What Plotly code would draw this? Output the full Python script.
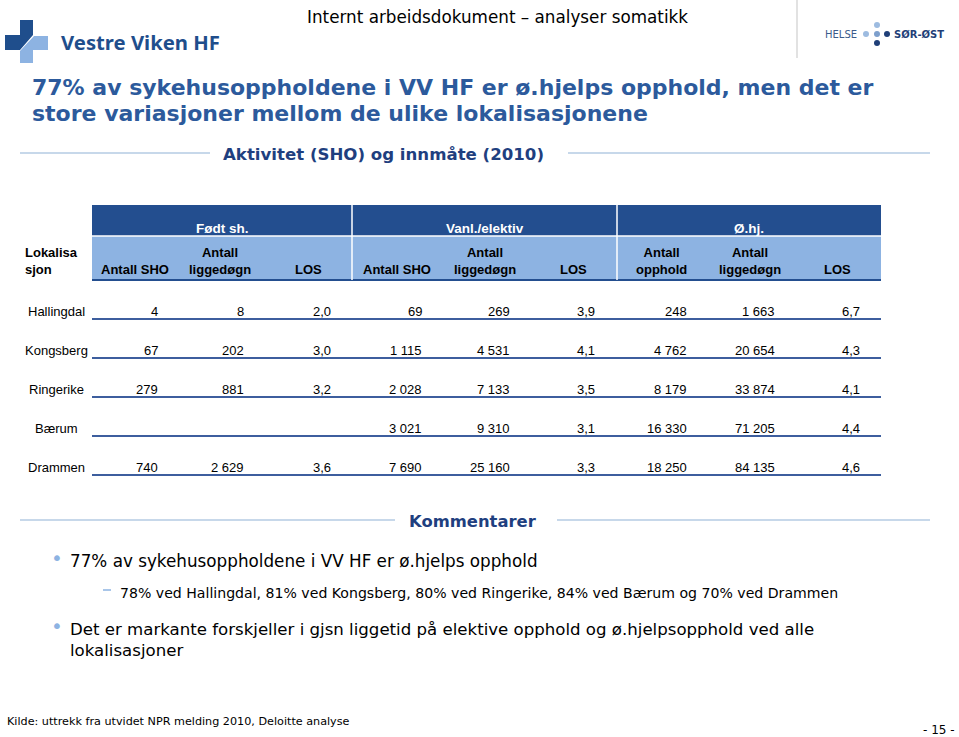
import plotly.graph_objects as go

# ---------------- data ----------------
locations = ["Hallingdal", "Kongsberg", "Ringerike", "Bærum", "Drammen"]

fodt_sho = [4, 67, 279, None, 740]
fodt_ligg = [8, 202, 881, None, 2629]
fodt_los = [2.0, 3.0, 3.2, None, 3.6]
vanl_sho = [69, 1115, 2028, 3021, 7690]
vanl_ligg = [269, 4531, 7133, 9310, 25160]
vanl_los = [3.9, 4.1, 3.5, 3.1, 3.3]
ohj_opph = [248, 4762, 8179, 16330, 18250]
ohj_ligg = [1663, 20654, 33874, 71205, 84135]
ohj_los = [6.7, 4.3, 4.1, 4.4, 4.6]

group_labels = ["Født sh.", "Vanl./elektiv", "Ø.hj."]
col_labels = ["Antall SHO", "Antall<br>liggedøgn", "LOS",
              "Antall SHO", "Antall<br>liggedøgn", "LOS",
              "Antall<br>opphold", "Antall<br>liggedøgn", "LOS"]

title_lines = ["77% av sykehusoppholdene i VV HF er ø.hjelps opphold, men det er",
               "store variasjoner mellom de ulike lokalisasjonene"]
header_text = "Internt arbeidsdokument – analyser somatikk"
section1 = "Aktivitet (SHO) og innmåte (2010)"
section2 = "Kommentarer"
bullet1 = "77% av sykehusoppholdene i VV HF er ø.hjelps opphold"
sub_bullet = "78% ved Hallingdal, 81% ved Kongsberg, 80% ved Ringerike, 84% ved Bærum og 70% ved Drammen"
bullet2 = ["Det er markante forskjeller i gjsn liggetid på elektive opphold og ø.hjelpsopphold ved alle",
           "lokalisasjoner"]
source = "Kilde: uttrekk fra utvidet NPR melding 2010, Deloitte analyse"
page_no = "- 15 -"

columns = [fodt_sho, fodt_ligg, fodt_los, vanl_sho, vanl_ligg, vanl_los,
           ohj_opph, ohj_ligg, ohj_los]
is_los = [False, False, True, False, False, True, False, False, True]

# ---------------- layout constants ----------------
W, H = 959, 737
DARK = "#234e8f"
LIGHT = "#8db3e2"
NAVY = "#1f4e8c"
TITLE_C = "#2c5a9c"
LINE_C = "#3d5e9e"
SEC_LINE = "#b4cbe3"

col_right = [160, 246, 333, 424, 512, 597, 689, 777, 862]
col_center = [135, 220, 308, 397, 485, 573, 661, 750, 837]
row_y = [311, 350, 389, 428, 467]
line_y = [319, 358, 397, 436, 475]
T_L, T_R = 92, 881
SEP1, SEP2 = 352, 617


def fmt(v, los):
    if v is None:
        return ""
    if los:
        return f"{v:.1f}".replace(".", ",")
    return f"{v:,}".replace(",", " ")


fig = go.Figure()
fig.add_trace(go.Scatter(x=[0, W], y=[0, H], mode="markers",
                         marker=dict(opacity=0), hoverinfo="skip"))

shapes = []
ann = []


def text(x, y, s, size, color="black", family="DejaVu Sans", bold=False,
         xanchor="left", yanchor="middle", align="left"):
    if bold:
        s = f"<b>{s}</b>"
    ann.append(dict(x=x, y=y, xref="x", yref="y", text=s, showarrow=False,
                    xanchor=xanchor, yanchor=yanchor, align=align,
                    font=dict(size=size, color=color, family=family)))


# ---- top logos ----
shapes.append(dict(type="path", xref="x", yref="y",
                   path="M 20 20 L 33 20 L 33 35 L 20 50 L 5 50 L 5 35 L 20 35 Z",
                   fillcolor=NAVY, line=dict(width=0)))
shapes.append(dict(type="path", xref="x", yref="y",
                   path="M 34 36 L 48 36 L 48 50 L 33 50 L 33 63 L 20 63 L 20 51 Z",
                   fillcolor=LIGHT, line=dict(width=0)))
text(59, 42, "Vestre Viken HF", 20.3, color=NAVY, family="Noto Sans", bold=True)
text(305, 17, header_text, 16.8, color="black")
shapes.append(dict(type="line", xref="x", yref="y", x0=797, x1=797, y0=0, y1=58,
                   line=dict(color="#d8d8d8", width=1.5)))
text(823, 34, "HELSE", 10, color="#3b5b8b")
text(892, 34, "SØR-ØST", 10, color="#1f3f78", bold=True)
for (cx, cy, c) in [(877, 25, "#9dbbe0"), (866, 34, "#9dbbe0"), (877, 34, "#7d9fcc"),
                    (887, 34, "#1f3f78"), (877, 43, "#1f3f78")]:
    shapes.append(dict(type="circle", xref="x", yref="y", x0=cx - 3, x1=cx + 3,
                       y0=cy - 3, y1=cy + 3, fillcolor=c, line=dict(width=0)))

# ---- title ----
text(30, 87, title_lines[0], 22, color=TITLE_C, bold=True)
text(30, 113, title_lines[1], 22, color=TITLE_C, bold=True)

# ---- section heading 1 ----
shapes.append(dict(type="line", xref="x", yref="y", x0=20, x1=210, y0=153, y1=153,
                   line=dict(color=SEC_LINE, width=1.5)))
shapes.append(dict(type="line", xref="x", yref="y", x0=568, x1=930, y0=153, y1=153,
                   line=dict(color=SEC_LINE, width=1.5)))
text(383, 154, section1, 16.6, color="#1f3f7f", bold=True, xanchor="center")

# ---- table header ----
shapes.append(dict(type="rect", xref="x", yref="y", x0=T_L, x1=T_R, y0=205, y1=236,
                   fillcolor=DARK, line=dict(width=0)))
shapes.append(dict(type="rect", xref="x", yref="y", x0=T_L, x1=T_R, y0=236, y1=280,
                   fillcolor=LIGHT, line=dict(width=0)))
shapes.append(dict(type="line", xref="x", yref="y", x0=T_L, x1=T_R, y0=280, y1=280,
                   line=dict(color=DARK, width=2)))
for sx in (SEP1, SEP2):
    shapes.append(dict(type="line", xref="x", yref="y", x0=sx, x1=sx, y0=205, y1=280,
                       line=dict(color="white", width=1.5)))
shapes.append(dict(type="line", xref="x", yref="y", x0=T_L, x1=T_R, y0=236, y1=236,
                   line=dict(color="white", width=1.5)))

group_centers = [(T_L + SEP1) / 2, (SEP1 + SEP2) / 2, (SEP2 + T_R) / 2]
for gx, g in zip(group_centers, group_labels):
    text(gx, 228, g, 13.5, color="white", family="Liberation Sans", bold=True,
         xanchor="center")
for cx, lab in zip(col_center, col_labels):
    text(cx, 279, lab, 13, color="black", family="Liberation Sans", bold=True,
         xanchor="center", yanchor="bottom", align="center")
text(23, 279, "Lokalisa<br>sjon", 13, color="black", family="Liberation Sans",
     bold=True, yanchor="bottom")

# ---- table body ----
for i, loc in enumerate(locations):
    text(56, row_y[i], loc, 13, family="Liberation Sans", xanchor="center")
    shapes.append(dict(type="line", xref="x", yref="y", x0=T_L, x1=T_R,
                       y0=line_y[i], y1=line_y[i], line=dict(color=LINE_C, width=1.8)))
    for j, col in enumerate(columns):
        s = fmt(col[i], is_los[j])
        if s:
            text(col_right[j], row_y[i], s, 13, family="Liberation Sans",
                 xanchor="right")

# ---- comments ----
shapes.append(dict(type="line", xref="x", yref="y", x0=20, x1=395, y0=520, y1=520,
                   line=dict(color=SEC_LINE, width=1.5)))
shapes.append(dict(type="line", xref="x", yref="y", x0=557, x1=930, y0=520, y1=520,
                   line=dict(color=SEC_LINE, width=1.5)))
text(473, 521, section2, 16.4, color="#1f3f7f", bold=True, xanchor="center")

text(49, 558, "•", 20, color="#8db3e2")
text(68, 561, bullet1, 16.8)
shapes.append(dict(type="line", xref="x", yref="y", x0=103, x1=111, y0=590, y1=590,
                   line=dict(color="#8db3e2", width=1.5)))
text(118, 593, sub_bullet, 14.1)
text(49, 626, "•", 20, color="#8db3e2")
text(68, 629, bullet2[0], 16.6)
text(68, 650, bullet2[1], 16.6)

# ---- footer ----
text(5, 721, source, 11.2)
text(957, 730, page_no, 12, xanchor="right")

fig.update_layout(
    width=W, height=H, margin=dict(l=0, r=0, t=0, b=0),
    paper_bgcolor="white", plot_bgcolor="white", showlegend=False,
    xaxis=dict(range=[0, W], visible=False, fixedrange=True),
    yaxis=dict(range=[H, 0], visible=False, fixedrange=True),
    shapes=shapes, annotations=ann,
)

fig.write_html("out.html", config={"displayModeBar": False},
               post_script="document.body.style.margin='0';document.body.style.overflow='hidden';")
